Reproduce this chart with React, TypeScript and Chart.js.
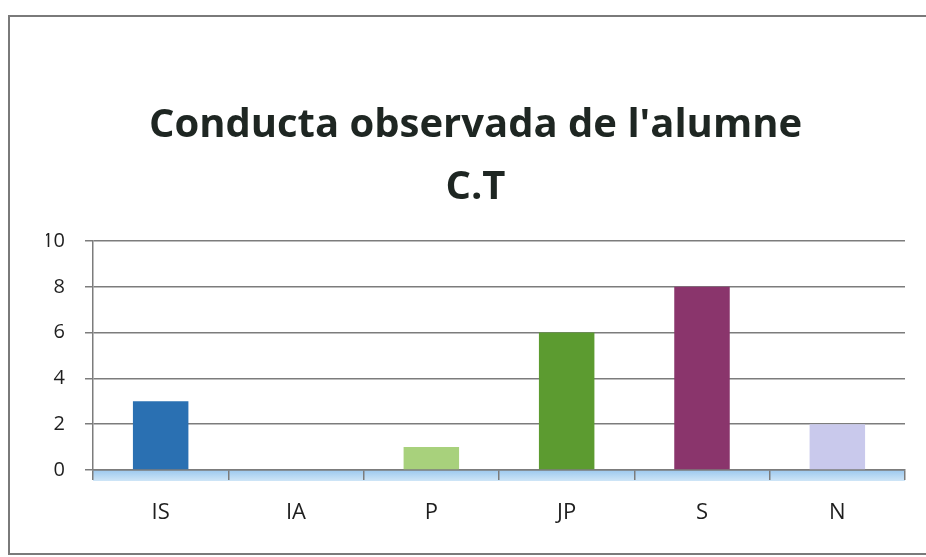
import React, { useEffect, useRef } from "react";
import { Chart, registerables } from "chart.js";

Chart.register(...registerables);

const categories = ["IS", "IA", "P", "JP", "S", "N"];
const values = [3, 0, 1, 6, 8, 2];
const barColors = ["#2a70b2", "#4a7ec0", "#a8d17c", "#5c9b30", "#8a356c", "#c9c9ec"];
const yTicks = [0, 2, 4, 6, 8, 10];
const titleLines = ["Conducta observada de l'alumne", "C.T"];

const FONT = "'Open Sans', Lato, sans-serif";

const floorPlugin = {
  id: "floorPlugin",
  beforeDraw(chart: any) {
    const { ctx, chartArea } = chart;
    const g = ctx.createLinearGradient(0, chartArea.bottom, 0, chartArea.bottom + 12);
    g.addColorStop(0, "#9cc8ee");
    g.addColorStop(1, "#d3e8f8");
    ctx.save();
    ctx.fillStyle = g;
    ctx.fillRect(chartArea.left, chartArea.bottom, chartArea.right - chartArea.left, 11);
    ctx.restore();
  },
};

export default function App() {
  const ref = useRef<HTMLCanvasElement>(null);
  useEffect(() => {
    if (!ref.current) return;
    const chart = new Chart(ref.current, {
      type: "bar",
      data: {
        labels: categories,
        datasets: [
          {
            data: values,
            backgroundColor: barColors,
            barPercentage: 0.41,
            categoryPercentage: 1,
          },
        ],
      },
      plugins: [floorPlugin],
      options: {
        animation: false,
        responsive: false,
        maintainAspectRatio: false,
        layout: { padding: { left: 46, right: 21, top: 95, bottom: 27 } },
        plugins: {
          legend: { display: false },
          tooltip: { enabled: false },
          title: {
            display: true,
            text: titleLines,
            color: "#1e2622",
            font: { family: FONT, size: 40, weight: "bold", lineHeight: "62px" },
            padding: { top: 0, bottom: 22 },
          },
        },
        scales: {
          x: {
            afterFit: (s: any) => {
              s.height = 60;
            },
            grid: {
              offset: true,
              drawOnChartArea: false,
              drawTicks: true,
              tickLength: 10,
              color: "#7c7c7c",
              lineWidth: 1.5,
            },
            border: { display: true, color: "#7c7c7c", width: 1.5 },
            ticks: {
              color: "#1e1e1e",
              padding: 20,
              font: { family: FONT, size: 22 },
            },
          },
          y: {
            min: 0,
            max: 10,
            afterFit: (s: any) => {
              s.width = 47;
            },
            afterBuildTicks: (s: any) => {
              s.ticks = yTicks.map((v) => ({ value: v }));
            },
            grid: {
              color: "#7c7c7c",
              lineWidth: 1.5,
              drawTicks: true,
              tickLength: 8,
            },
            border: { display: true, color: "#7c7c7c", width: 1.5 },
            ticks: {
              color: "#1e1e1e",
              padding: 20,
              font: { family: FONT, size: 20 },
            },
          },
        },
      },
    });
    return () => chart.destroy();
  }, []);

  return (
    <div
      style={{
        position: "absolute",
        left: 0,
        top: 0,
        width: 926,
        height: 557,
        overflow: "hidden",
        background: "#ffffff",
      }}
    >
      <div
        style={{
          position: "absolute",
          left: 8,
          top: 15,
          width: 940,
          height: 536,
          border: "2px solid #7a7a7a",
          borderRight: "none",
        }}
      />
      <canvas ref={ref} width={926} height={557} style={{ position: "absolute", left: 0, top: 0 }} />
    </div>
  );
}
